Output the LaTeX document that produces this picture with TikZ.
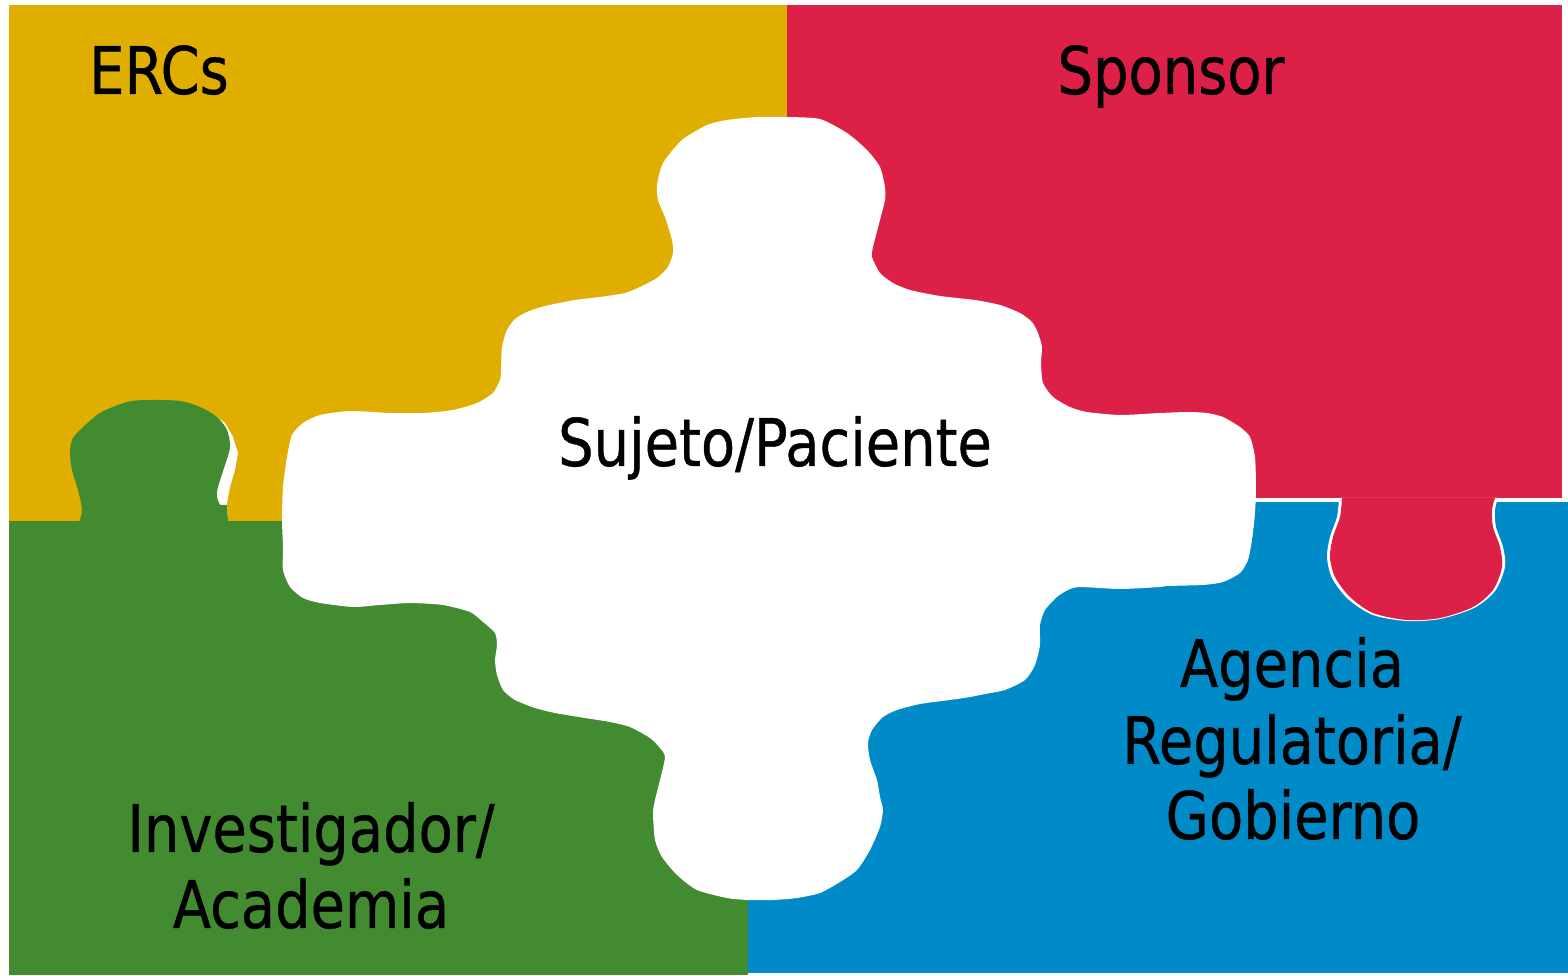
\documentclass[tikz,border=0pt]{standalone}
\usepackage{fontspec}
\setmainfont{DejaVu Sans}[FakeStretch=0.85,FakeBold=0.6]

\definecolor{ercyellow}{RGB}{224,174,0}
\definecolor{sponsorred}{RGB}{220,32,72}
\definecolor{investgreen}{RGB}{67,139,49}
\definecolor{agencyblue}{RGB}{0,138,199}

\begin{document}
\begin{tikzpicture}[x=0.01cm,y=-0.01cm,
            lbl/.style={font=\fontsize{18.7}{22}\selectfont,inner sep=0pt,anchor=base}]
            \useasboundingbox (0,0) rectangle (1568,976);

            \fill[ercyellow] (9,5) rectangle (787,521);
            \fill[sponsorred] (787,5) rectangle (1562,498);
            \fill[agencyblue] (748,502) rectangle (1568,973);
            \fill[investgreen] (9,521) rectangle (748,975);

            \fill[white] (200,415) -- (217,417) -- (225,423) -- (233,437) -- (238,453) -- (235,470)
                -- (230,487) -- (227,503) -- (228,521) -- (200,521) -- cycle;
            \fill[investgreen] plot[smooth,tension=.5] coordinates {(79,522) (82,510) (78,490) (72,470)
                (70,453) (72,440) (80,430) (100,413) (127,402) (150,400) (180,401) (200,407) (217,417)
                (227,430) (230,447) (225,465) (218,487) (217,497) (220,505)} -- (227,505) -- (228,522) -- cycle;

            \fill[white] plot[smooth,tension=.5] coordinates {(1339,498) (1337,517) (1330,537) (1327,557)
                (1332,578) (1348,599) (1373,615) (1407,621) (1440,619) (1474,608) (1495,591) (1505,567)
                (1503,547) (1496,527) (1495,510) (1498,498)} -- cycle;
            \fill[sponsorred] plot[smooth,tension=.5] coordinates {(1342,498) (1340,517) (1333,537) (1330,557)
                (1335,577) (1350,597) (1373,613) (1407,620) (1440,618) (1473,607) (1493,590) (1502,567)
                (1500,547) (1493,527) (1492,510) (1495,498)} -- cycle;

            \fill[white] plot[smooth cycle,tension=.4] coordinates {(640,287) (657,278) (668,267) (673,253)
                (672,240) (665,217) (658,200) (657,185) (663,163) (682,140) (707,125) (727,120) (757,117)
                (787,117) (820,119) (847,133) (867,150) (880,167) (885,187) (885,200) (880,220) (873,247)
                (872,257) (880,273) (893,283) (910,290) (940,296) (975,300) (1000,305) (1020,313) (1032,322)
                (1038,333) (1042,347) (1041,363) (1043,383) (1053,397) (1070,407) (1087,412) (1120,415)
                (1160,413) (1187,412) (1207,413) (1223,417) (1240,427) (1250,437) (1255,457) (1256,487)
                (1255,513) (1252,540) (1248,560) (1240,573) (1223,582) (1203,585) (1167,586) (1160,587)
                (1120,589) (1080,587) (1068,590) (1057,597) (1045,610) (1040,625) (1040,645) (1035,665)
                (1025,680) (1005,690) (985,694) (970,697) (950,700) (920,704) (897,710) (883,717) (872,730)
                (868,743) (870,760) (877,780) (880,797) (883,810) (880,827) (870,850) (857,870) (840,882)
                (820,893) (797,898) (773,900) (748,900) (727,898) (697,890) (677,875) (662,857) (655,840)
                (653,813) (655,800) (660,780) (665,757) (660,748) (650,738) (630,727) (610,722) (585,718)
                (555,713) (535,708) (515,700) (503,690) (497,675) (495,660) (497,645) (495,633) (483,622)
                (470,612) (443,605) (410,603) (380,605) (353,607) (320,603) (303,598) (290,587) (283,570)
                (283,547) (282,520) (283,487) (287,457) (292,435) (303,423) (320,415) (350,411) (390,413)
                (423,413) (453,410) (477,403) (493,393) (500,380) (501,370) (502,347) (507,330) (515,319)
                (527,312) (545,306) (575,300) (600,297) (625,293)};

            \node[lbl] (ercs) at (159,94) {ERCs};
            \node[lbl] (sponsor) at (1171,94) {Sponsor};
            \node[lbl] (sujeto) at (775,466) {Sujeto/Paciente};
            \node[lbl] (invest) at (311,852) {Investigador/};
            \node[lbl] (academia) at (311,928) {Academia};
            \node[lbl] (agencia) at (1292,687) {Agencia};
            \node[lbl] (regul) at (1292,764) {Regulatoria/};
            \node[lbl] (gobierno) at (1293,839) {Gobierno};
        \end{tikzpicture}
\end{document}
